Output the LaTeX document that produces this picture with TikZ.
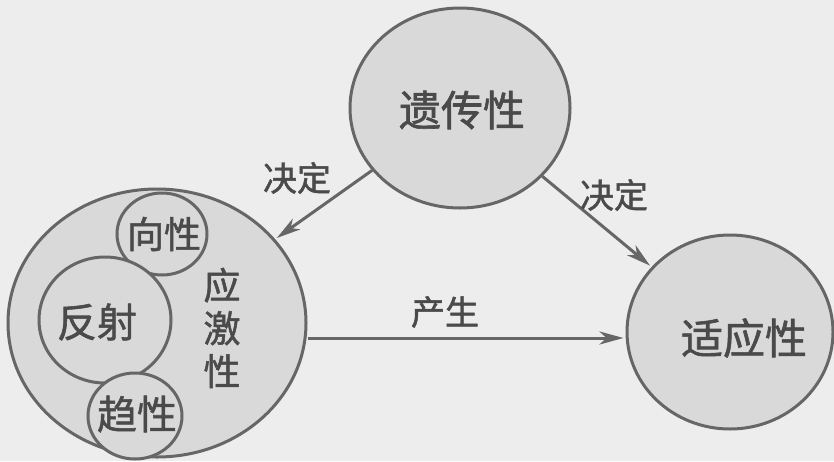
\documentclass[tikz,border=0pt]{standalone}
\usepackage{fontspec}
\newfontfamily\cjk[AutoFakeBold=1.4]{Noto Sans CJK SC}
\usetikzlibrary{shapes.geometric,arrows.meta}
\definecolor{bgc}{HTML}{EDEDED}
\definecolor{fillc}{HTML}{D9D9D9}
\definecolor{linec}{HTML}{666666}
\definecolor{textc}{HTML}{4A4A4A}
\newcommand{\cjkfs}[1]{\cjk\bfseries\fontsize{#1}{#1}\selectfont}
\tikzset{
  bubble/.style={ellipse, draw=linec, fill=fillc, line width=3pt, inner sep=0pt},
  txt/.style={text=textc, inner sep=0pt},
  arr/.style={draw=linec, line width=3pt, shorten >=2pt, -{Stealth[length=24pt,width=13pt,inset=7pt]}},
  lbl/.style={text=textc, font=\cjkfs{34}},
}
\begin{document}
\begin{tikzpicture}[x=1pt,y=-1pt]
\useasboundingbox[fill=bgc] (0,0) rectangle (834,461);
% main circles
\node[bubble, minimum width=220pt, minimum height=200pt] (heredity) at (460,108) {};
\node[txt, font=\cjkfs{42}] (heredtext) at (462,110) {遗传性};
\node[bubble, minimum width=298pt, minimum height=268pt] (stim) at (157,323) {};
\node[bubble, minimum width=206pt, minimum height=194pt] (adapt) at (730,332) {};
\node[txt, font=\cjkfs{42}] (adapttext) at (744,338) {适应性};
% inner circles
\node[bubble, minimum width=90pt, minimum height=82pt] (tropism) at (162,234) {};
\node[txt, font=\cjkfs{37}] (tropismtext) at (164,234) {向性};
\node[bubble, minimum width=132pt, minimum height=126pt] (reflex) at (105,320) {};
\node[txt, font=\cjkfs{40}] (reflextext) at (97,322) {反射};
\node[bubble, minimum width=94pt, minimum height=86pt] (taxis) at (135,416) {};
\node[txt, font=\cjkfs{40}] (taxistext) at (137,414) {趋性};
\node[txt, align=center, font=\cjkfs{37}] (stimtext) at (222,328) {应\\[6pt]激\\[6pt]性};
% connectors
\draw[arr] (heredity) -- (stim);
\draw[arr] (heredity) -- (adapt);
\coordinate (pa) at ([yshift=-6pt]adapt.west);
\draw[arr] (stim.east |- pa) -- (pa);
% labels
\node[lbl] (l1) at (297,178) {决定};
\node[lbl] (l2) at (614,195) {决定};
\node[lbl] (l3) at (445,312) {产生};
\end{tikzpicture}
\end{document}
